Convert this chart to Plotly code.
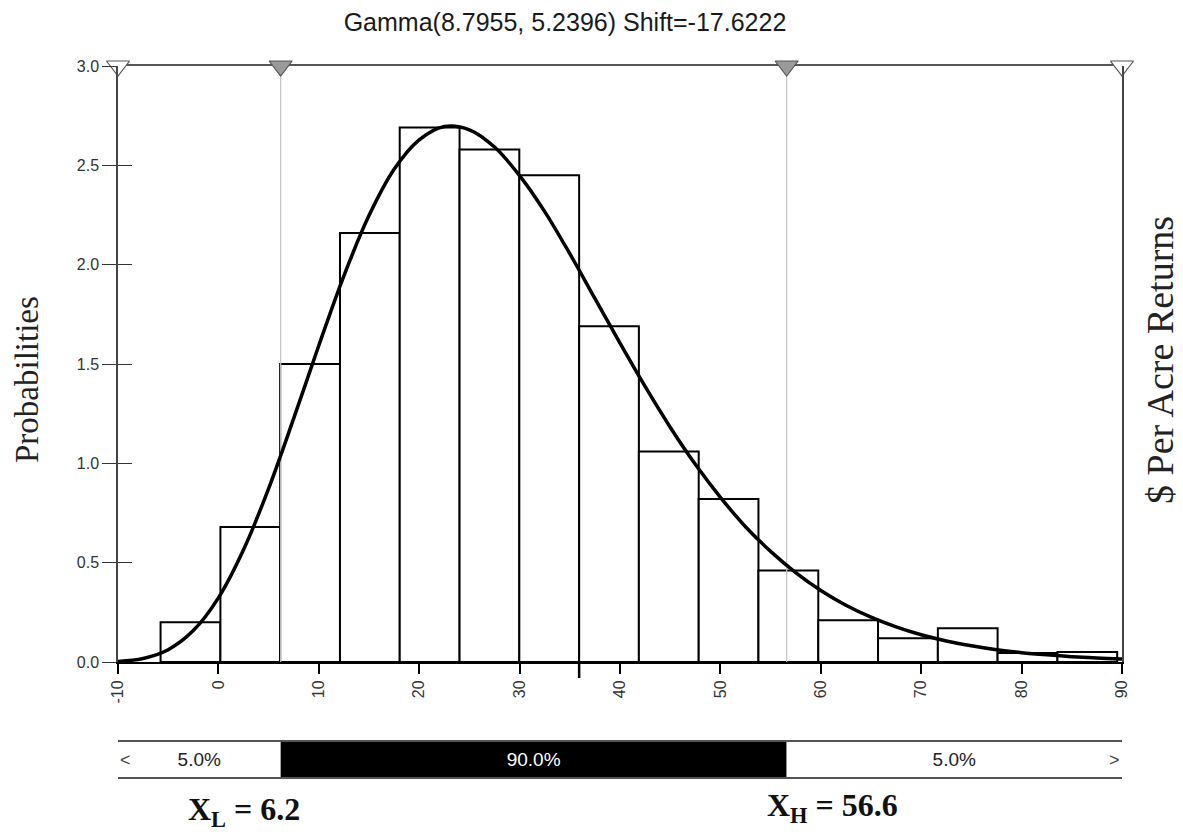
import plotly.graph_objects as go

# ---------------- data ----------------
title_text = "Gamma(8.7955, 5.2396) Shift=-17.6222"
bin_edges = [-5.76, 0.20, 6.15, 12.11, 18.06, 24.02, 29.97, 35.93, 41.88,
             47.84, 53.79, 59.75, 65.70, 71.66, 77.61, 83.57, 89.52]
bar_heights = [0.20, 0.68, 1.50, 2.16, 2.69, 2.58, 2.45, 1.69, 1.06,
               0.82, 0.46, 0.21, 0.12, 0.17, 0.045, 0.05]

curve_x = [-10, -7.5, -5, -2.5, 0, 2.5, 5, 7.5, 10, 12.5, 15, 17.5, 20, 22.5, 25,
           27.5, 30, 32.5, 35, 37.5, 40, 42.5, 45, 47.5, 50, 52.5, 55, 57.5, 60,
           62.5, 65, 67.5, 70, 72.5, 75, 77.5, 80, 82.5, 85, 87.5, 90]
curve_y = [0.003, 0.018, 0.062, 0.158, 0.323, 0.565, 0.873, 1.226, 1.593, 1.944,
           2.247, 2.480, 2.628, 2.695, 2.679, 2.592, 2.448, 2.267, 2.055, 1.830,
           1.605, 1.387, 1.182, 0.995, 0.829, 0.681, 0.557, 0.450, 0.360,
           0.286, 0.226, 0.177, 0.137, 0.106, 0.082, 0.062, 0.047, 0.036, 0.027,
           0.020, 0.015]

x_min, x_max = -10, 90
y_min, y_max = 0.0, 3.0
x_ticks = [-10, 0, 10, 20, 30, 40, 50, 60, 70, 80, 90]
y_ticks = [0.0, 0.5, 1.0, 1.5, 2.0, 2.5, 3.0]

x_low = 6.2
x_high = 56.6
pct_labels = ["5.0%", "90.0%", "5.0%"]
marker_edge_idx = 7  # bar edge with the extended tick below the axis

# ---------------- derived ----------------
bar_centers = [(bin_edges[i] + bin_edges[i + 1]) / 2 for i in range(len(bar_heights))]
bar_widths = [bin_edges[i + 1] - bin_edges[i] for i in range(len(bar_heights))]

seg_base = [x_min, x_low, x_high]
seg_len = [x_low - x_min, x_high - x_low, x_max - x_high]

FONT_SANS = "Arial, 'Liberation Sans', sans-serif"
FONT_SERIF = "'Times New Roman', 'Liberation Serif', serif"

fig = go.Figure()

# histogram
fig.add_trace(go.Bar(
    x=bar_centers, y=bar_heights, width=bar_widths,
    marker=dict(color="white", line=dict(color="black", width=2)),
    xaxis="x", yaxis="y", showlegend=False, hoverinfo="skip"))

# gray delimiter lines
for xv in (x_low, x_high):
    fig.add_trace(go.Scatter(
        x=[xv, xv], y=[y_min, y_max], mode="lines",
        line=dict(color="#c4c4c4", width=1.2),
        xaxis="x", yaxis="y", showlegend=False, hoverinfo="skip"))

# fitted curve
fig.add_trace(go.Scatter(
    x=curve_x, y=curve_y, mode="lines",
    line=dict(color="black", width=3.5, shape="spline", smoothing=1.0),
    xaxis="x", yaxis="y", showlegend=False, hoverinfo="skip"))

# triangles on overlay subplot (drawn on top)
fig.add_trace(go.Scatter(
    x=[x_min, x_low, x_high, x_max], y=[y_max] * 4, mode="markers",
    marker=dict(symbol="triangle-down", size=20,
                color=["white", "#9a9a9a", "#9a9a9a", "white"],
                line=dict(color="#555555", width=1.2)),
    cliponaxis=False, xaxis="x3", yaxis="y3", showlegend=False, hoverinfo="skip"))

# percentage strip
fig.add_trace(go.Bar(
    y=[0, 0, 0], x=seg_len, base=seg_base, orientation="h", width=1,
    marker=dict(color=["white", "black", "white"], line=dict(width=0)),
    text=pct_labels, textposition="inside", insidetextanchor="middle",
    textangle=0,
    textfont=dict(family=FONT_SANS, size=19, color=["#222222", "white", "#222222"]),
    xaxis="x2", yaxis="y2", showlegend=False, hoverinfo="skip"))

W, H = 1183, 832
mL, mR, mT, mB = 118, 61, 66, 55
plot_h = H - mT - mB
y_bottom_px = 662
strip_top_px = 742
main_dom0 = (H - mB - y_bottom_px) / plot_h
strip_dom1 = (H - mB - strip_top_px) / plot_h

tick_font = dict(family=FONT_SANS, size=16, color="#333333")

fig.update_layout(
    width=W, height=H,
    margin=dict(l=mL, r=mR, t=mT, b=mB),
    paper_bgcolor="white", plot_bgcolor="white",
    barmode="overlay",
    title=dict(text=title_text, x=0.4776, xref="container", xanchor="center",
               y=1 - 22 / H, yref="container", yanchor="middle",
               font=dict(family=FONT_SANS, size=25, color="#1a1a1a")),
    xaxis=dict(range=[x_min, x_max], domain=[0, 1], anchor="y",
               tickvals=x_ticks, ticktext=[str(v) for v in x_ticks],
               ticks="outside", ticklen=10, tickwidth=1.5,
               tickcolor="black", tickangle=-90, tickfont=tick_font,
               showline=True, linecolor="black", linewidth=2,
               showgrid=False, zeroline=False),
    yaxis=dict(range=[y_min, y_max], domain=[main_dom0, 1], anchor="x",
               tickvals=y_ticks, ticktext=[f"{v:.1f}" for v in y_ticks],
               ticks="outside", ticklen=14,
               tickwidth=1.3, tickcolor="#333333", tickfont=tick_font,
               showline=True, linecolor="#444444", linewidth=1.5, mirror=True,
               showgrid=False, zeroline=False),
    xaxis3=dict(range=[x_min, x_max], overlaying="x", anchor="y", side="top",
                showline=True, linecolor="#555555", linewidth=1.5,
                ticks="", showticklabels=False, showgrid=False, zeroline=False,
                layer="below traces"),
    yaxis3=dict(range=[y_min, y_max], overlaying="y", anchor="x", side="left",
                tickvals=y_ticks, ticks="inside", ticklen=14, tickwidth=1.3,
                tickcolor="#333333", showticklabels=False, showline=False,
                showgrid=False, zeroline=False),
    xaxis2=dict(range=[x_min, x_max], domain=[0, 1], anchor="y2",
                showline=True, mirror=True, linecolor="#555555", linewidth=1.5,
                ticks="", showticklabels=False, showgrid=False, zeroline=False),
    yaxis2=dict(range=[-0.5, 0.5], domain=[0, strip_dom1], anchor="x2",
                showline=False, ticks="", showticklabels=False,
                showgrid=False, zeroline=False),
)

# extended tick at a bar edge below the axis
fig.add_shape(type="line", xref="x", yref="paper",
              x0=bin_edges[marker_edge_idx], x1=bin_edges[marker_edge_idx],
              y0=main_dom0 - 16 / plot_h, y1=main_dom0,
              line=dict(color="black", width=2.5))

def px_x(px):
    return (px - mL) / (W - mL - mR)

def px_y(py):
    return (H - mB - py) / plot_h

annos = [
    dict(text="Probabilities", x=px_x(27), y=px_y(380), textangle=-90,
         font=dict(family=FONT_SERIF, size=33, color="#222222")),
    dict(text="$ Per Acre Returns", x=px_x(1160), y=px_y(360), textangle=-90,
         font=dict(family=FONT_SERIF, size=38, color="#222222")),
    dict(text=f"<b>X<sub>L</sub> = {x_low:.1f}</b>", x=px_x(244), y=px_y(811),
         font=dict(family=FONT_SERIF, size=32, color="#111111")),
    dict(text=f"<b>X<sub>H</sub> = {x_high:.1f}</b>", x=px_x(832), y=px_y(807),
         font=dict(family=FONT_SERIF, size=32, color="#111111")),
]
for a in annos:
    fig.add_annotation(xref="paper", yref="paper", showarrow=False,
                       xanchor="center", yanchor="middle", **a)

# strip arrows
fig.add_annotation(xref="x2", yref="y2", x=x_min, y=0, text="<", showarrow=False,
                   xanchor="left", yanchor="middle",
                   font=dict(family=FONT_SANS, size=18, color="#444444"))
fig.add_annotation(xref="x2", yref="y2", x=x_max, y=0, text=">", showarrow=False,
                   xanchor="right", yanchor="middle",
                   font=dict(family=FONT_SANS, size=18, color="#444444"))

fig.write_html("out.html")
